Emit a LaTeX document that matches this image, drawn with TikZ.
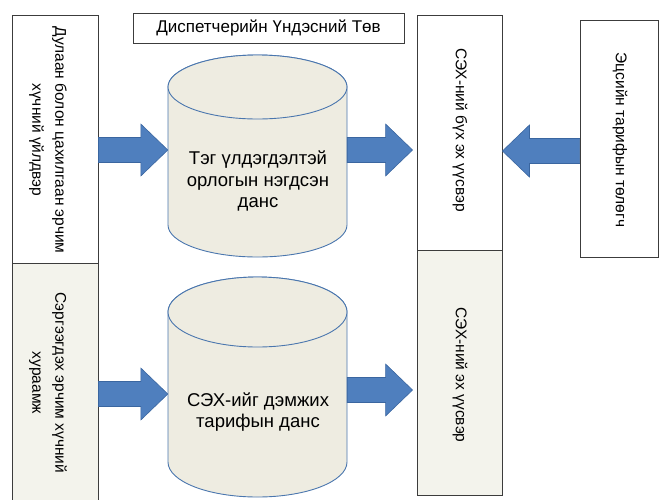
\documentclass[tikz,border=0pt]{standalone}
\usepackage{fontspec}
\setmainfont{Liberation Sans}
\usetikzlibrary{calc}
\definecolor{ablue}{HTML}{4F7FBE}
\definecolor{abluedark}{HTML}{3A66A0}
\definecolor{cylfill}{HTML}{EEECE1}
\definecolor{cylline}{HTML}{4A76AE}
\definecolor{lowfill}{HTML}{F3F3EC}
\definecolor{boxline}{HTML}{3C3C3C}
\newcommand\blockarrow[2]{%
  \path (#1) coordinate (bs) (#2) coordinate (be) ($(be)!27pt!(bs)$) coordinate (bh);
  \filldraw[barrow] ($(bs)!12.5pt!90:(be)$) -- ($(bh)!12.5pt!-90:(bs)$) -- ($(bh)!26pt!-90:(bs)$) -- (be)
    -- ($(bh)!26pt!90:(bs)$) -- ($(bh)!12.5pt!90:(bs)$) -- ($(bs)!12.5pt!-90:(be)$) -- cycle;}
\tikzset{
  box/.style={draw=boxline, line width=0.9pt, fill=white, inner sep=0pt},
  lowbox/.style={box, fill=lowfill},
  vtxt/.style={rotate=-90, align=center, font=\fontsize{15.5}{23}\selectfont},
  ctxt/.style={align=center, font=\fontsize{18.5}{21.5}\selectfont},
  cyl/.style={draw=cylline, line width=0.9pt, fill=cylfill},
  barrow/.style={fill=ablue, draw=abluedark, line width=0.6pt, line join=miter},
}
\begin{document}
\begin{tikzpicture}[x=1pt, y=-1pt]
\useasboundingbox (0,0) rectangle (661,499);
% boxes
\node[box, minimum width=86pt, minimum height=248pt] (lt) at (55,139) {};
\node[lowbox, minimum width=86pt, minimum height=244pt] (lb) at (55,385) {};
\node[box, minimum width=85pt, minimum height=235pt] (rt) at (459.5,132.5) {};
\node[lowbox, minimum width=85pt, minimum height=245pt] (rb) at (459.5,372.5) {};
\node[box, minimum width=78pt, minimum height=237pt] (fr) at (619,138.5) {};
\node[box, minimum width=271pt, minimum height=30pt, font=\fontsize{17}{19}\selectfont] (title) at (268.5,28) {Диспетчерийн Үндэсний Төв};
% box texts
\node[vtxt] (ltt) at (48,140) {Дулаан болон цахилгаан эрчим\\хүчний үйлдвэр};
\node[vtxt] (lbt) at (48,383) {Сэргээгдэх эрчим хүчний\\хураамж};
\node[vtxt] (rtt) at (460,130) {СЭХ-ний бүх эх үүсвэр};
\node[vtxt] (rbt) at (460,375) {СЭХ-ний эх үүсвэр};
\node[vtxt] (frt) at (620,140) {Эцсийн тарифын төлөгч};
% cylinders
\draw[cyl] (168,87) -- (168,225) arc[start angle=180, end angle=360, x radius=89.5pt, y radius=32pt]
  -- (347,87) arc[start angle=0, end angle=180, x radius=89.5pt, y radius=32pt] -- cycle;
\draw[cyl] (257.5,87) ellipse[x radius=89.5pt, y radius=32pt];
\draw[cyl] (168,312) -- (168,462) arc[start angle=180, end angle=360, x radius=89.5pt, y radius=35pt]
  -- (347,312) arc[start angle=0, end angle=180, x radius=89.5pt, y radius=35pt] -- cycle;
\draw[cyl] (257.5,312) ellipse[x radius=89.5pt, y radius=35pt];
\node[minimum width=179pt, minimum height=202pt, inner sep=0pt] (cyl1) at (257.5,156) {};
\node[minimum width=179pt, minimum height=220pt, inner sep=0pt] (cyl2) at (257.5,387) {};
\node[ctxt] (c1t) at (258,181) {Тэг үлдэгдэлтэй\\орлогын нэгдсэн\\данс};
\node[ctxt] (c2t) at (258,412) {СЭХ-ийг дэмжих\\тарифын данс};
% arrows
\coordinate (y1) at (0,150);
\coordinate (y3) at (0,151);
\coordinate (y4) at (0,394);
\coordinate (y5) at (0,390);
\blockarrow{lt.east |- y1}{cyl1.west |- y1}
\blockarrow{cyl1.east |- y1}{$(rt.west |- y1)+(-4,0)$}
\blockarrow{fr.west |- y3}{rt.east |- y3}
\blockarrow{lb.east |- y4}{cyl2.west |- y4}
\blockarrow{cyl2.east |- y5}{$(rb.west |- y5)+(-4,0)$}
\end{tikzpicture}
\end{document}
